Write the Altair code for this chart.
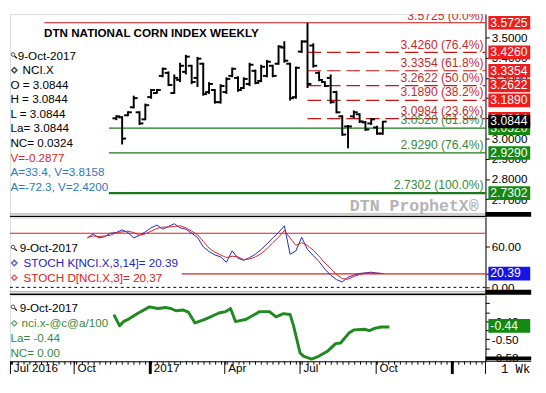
import altair as alt
import pandas as pd

# ------------------------------------------------------------------ data
bar_start = "2016-11-21"          # first weekly bar (Monday)
bar_open = [3.100, 3.105, 3.115, 3.155, 3.130, 3.095, 3.205, 3.225, 3.310, 3.325, 3.225, 3.290,
            3.330, 3.360, 3.300, 3.370, 3.230, 3.240, 3.180, 3.230, 3.310, 3.300, 3.250, 3.270,
            3.335, 3.285, 3.310, 3.360, 3.370, 3.450, 3.370, 3.205, 3.430, 3.480, 3.460, 3.325,
            3.280, 3.300, 3.230, 3.110, 3.060, 3.110, 3.120, 3.080, 3.075, 3.055, 3.025]
bar_high = [3.115, 3.111, 3.135, 3.212, 3.135, 3.173, 3.245, 3.245, 3.351, 3.332, 3.317, 3.375,
            3.414, 3.365, 3.404, 3.375, 3.279, 3.245, 3.269, 3.303, 3.351, 3.308, 3.303, 3.375,
            3.341, 3.365, 3.389, 3.365, 3.462, 3.481, 3.375, 3.356, 3.486, 3.5725, 3.471, 3.332,
            3.284, 3.317, 3.236, 3.115, 3.067, 3.139, 3.125, 3.087, 3.101, 3.063, 3.087]
bar_low = [3.091, 2.971, 3.111, 3.149, 3.067, 3.091, 3.197, 3.221, 3.303, 3.260, 3.221, 3.279,
           3.317, 3.269, 3.255, 3.212, 3.221, 3.173, 3.173, 3.221, 3.303, 3.231, 3.245, 3.260,
           3.269, 3.279, 3.303, 3.303, 3.365, 3.375, 3.188, 3.197, 3.423, 3.250, 3.351, 3.284,
           3.255, 3.173, 3.125, 3.014, 2.952, 3.101, 3.077, 3.038, 3.067, 3.019, 3.019]
bar_close = [3.110, 3.000, 3.130, 3.200, 3.075, 3.165, 3.240, 3.240, 3.345, 3.265, 3.300, 3.360,
             3.405, 3.280, 3.395, 3.220, 3.270, 3.180, 3.260, 3.295, 3.345, 3.240, 3.295, 3.365,
             3.275, 3.355, 3.380, 3.310, 3.455, 3.385, 3.200, 3.350, 3.480, 3.270, 3.360, 3.290,
             3.260, 3.180, 3.130, 3.020, 3.060, 3.130, 3.085, 3.045, 3.095, 3.025, 3.084]

stoch_start = "2016-10-17"
stoch_k = [73, 79, 73, 75, 80, 81, 85, 81, 73, 77, 82, 88, 92, 86, 90, 94, 88, 86, 80, 74,
           60, 53, 48, 45, 37, 54, 43, 40, 44, 49, 56, 64, 73, 81, 91, 49, 54, 74, 56, 47,
           38, 27, 18, 11.5, 8, 15, 18, 20.5, 21.5, 22.4, 21, 20.39]
stoch_d = [74, 76, 75, 76, 77, 81, 82, 83, 81, 77, 79, 83, 87, 89, 89, 90, 91, 88, 83, 78,
           68, 58, 52, 48, 44, 46, 45, 41, 42, 45, 50, 57, 66, 74, 84, 73, 62, 66, 62, 55,
           46, 36, 28, 19, 13, 12, 16, 19, 21, 21, 21, 20.37]

spread_dates = ["2016-11-18", "2016-11-25", "2016-11-30", "2016-12-06", "2016-12-16", "2016-12-31",
                "2017-01-10", "2017-01-20", "2017-01-26", "2017-02-01", "2017-02-10", "2017-02-16",
                "2017-02-24", "2017-03-08", "2017-03-25", "2017-04-02", "2017-04-08", "2017-04-14",
                "2017-04-27", "2017-05-13", "2017-05-25", "2017-06-02", "2017-06-11", "2017-06-19",
                "2017-06-23", "2017-07-01", "2017-07-05", "2017-07-15", "2017-07-24", "2017-08-03",
                "2017-08-13", "2017-08-19", "2017-08-29", "2017-09-04", "2017-09-17", "2017-09-23",
                "2017-09-29", "2017-10-07", "2017-10-17"]
spread_vals = [-0.390, -0.440, -0.420, -0.410, -0.386, -0.356, -0.363, -0.359, -0.363, -0.373,
               -0.370, -0.379, -0.427, -0.411, -0.383, -0.377, -0.363, -0.421, -0.411, -0.377,
               -0.377, -0.400, -0.386, -0.390, -0.438, -0.560, -0.574, -0.587, -0.574, -0.553,
               -0.519, -0.516, -0.472, -0.458, -0.455, -0.461, -0.451, -0.445, -0.445]

fib_top_value = 3.5725
fib_top_pct = "0.0%"
fib_top_start = "2016-08-26"
fib_red_values = [3.4260, 3.3354, 3.2622, 3.1890, 3.0984]
fib_red_pcts = ["76.4%", "61.8%", "50.0%", "38.2%", "23.6%"]
fib_green_values = [3.0520, 2.9290, 2.7302]
fib_green_pcts = ["61.8%", "76.4%", "100.0%"]
fib_green_start = "2016-11-12"
last_price = 3.0844

stoch_levels = [80, 20]
stoch_lo_start = "2017-02-08"
stoch_last_k = 20.39
spread_last = -0.44

price_ticks = [2.7, 2.8, 2.9, 3.0, 3.1, 3.2, 3.3, 3.4, 3.5]
stoch_ticks = [0, 20, 60]
spread_ticks = [-0.58, -0.54, -0.50, -0.46, -0.42, -0.38, -0.34]

quarter_dates = ["2016-07-16", "2016-10-01", "2017-01-01", "2017-04-01",
                 "2017-07-01", "2017-10-01", "2018-01-01"]
quarter_labels = ["Jul 2016", "Oct", "2017", "Apr", "Jul", "Oct", ""]

title_text = "DTN NATIONAL CORN INDEX WEEKLY"
price_legend = ["9-Oct-2017", "NCI.X", "O = 3.0844", "H = 3.0844", "L = 3.0844", "La= 3.0844",
                "NC= 0.0324", "V=-0.2877", "A=33.4, V=3.8158", "A=-72.3, V=2.4200"]
stoch_legend = ["9-Oct-2017", "STOCH K[NCI.X,3,14]= 20.39", "STOCH D[NCI.X,3]= 20.37"]
spread_legend = ["9-Oct-2017", "nci.x-@c@a/100", "La= -0.44", "NC= 0.00"]

# ------------------------------------------------------------------ helpers
FONT = "Liberation Sans"
RED_LINE = "#cc1414"
RED_TXT = "#cc2a2a"
GREEN_LINE = "#1a7a1a"
GREEN_TXT = "#3a8a3a"
BLUE_TXT = "#2f78bd"
K_BLUE = "#2323c0"
D_RED = "#dd2020"

ORIGIN = pd.Timestamp("2016-10-01")


def to_day(d):
    return (pd.Timestamp(d) - ORIGIN).days


W = 489
HP, HS, HB = 209, 80, 68
xs = alt.Scale(domain=[-77.6, 497.1], nice=False, zero=False)
ps = alt.Scale(domain=[2.6106, 3.6154], nice=False, zero=False)
ss = alt.Scale(domain=[-11.5, 103.45], nice=False, zero=False)
bs = alt.Scale(domain=[-0.597, -0.304], nice=False, zero=False)

common_axis = dict(title=None, grid=False, domainColor="black", tickColor="black", tickSize=4,
                   labelPadding=2, labelFontSize=12, labelColor="black", labelFont=FONT,
                   labelOverlap=False, labelFlush=False, labelBound=False)
price_axis = alt.Axis(orient="right", values=price_ticks, format=".4f", **common_axis)
stoch_axis = alt.Axis(orient="right", values=stoch_ticks, format=".2f", **common_axis)
spread_axis = alt.Axis(
    orient="right", values=spread_ticks,
    labelExpr="(abs(datum.value + 0.58) < 0.001 || abs(datum.value + 0.5) < 0.001 || "
              "abs(datum.value + 0.42) < 0.001) ? replace(format(datum.value, '.2f'), '\u2212', '-') : ''",
    **common_axis)

q_days = [to_day(d) for d in quarter_dates]
week_days = [(t - ORIGIN).days for t in pd.date_range("2016-07-18", "2018-02-05", freq="7D")]
tick_vals = sorted(set(week_days + q_days))
label_expr = "".join(f"datum.value == {d} ? '{lab}' : " for d, lab in zip(q_days, quarter_labels)) + "''"
x_axis = alt.Axis(orient="bottom", values=tick_vals, labelExpr=label_expr, title=None, grid=False,
                  domainColor="black", tickColor="black", tickSize=3, labelPadding=-1,
                  labelAlign="left", labelBaseline="top", labelOffset=3, labelFontSize=12,
                  labelColor="black", labelFont=FONT, labelOverlap=False, labelFlush=False,
                  labelBound=False)


def X(f):
    return alt.X(f, type="quantitative", scale=xs, axis=None)


def XB(f):
    return alt.X(f, type="quantitative", scale=xs, axis=x_axis)


def PY(f):
    return alt.Y(f, type="quantitative", scale=ps, axis=price_axis)


def SY(f):
    return alt.Y(f, type="quantitative", scale=ss, axis=stoch_axis)


def BY(f):
    return alt.Y(f, type="quantitative", scale=bs, axis=spread_axis)


def one():
    return alt.Chart(pd.DataFrame({"a": [0]}))


def txt(text, x, y, color="black", size=12, align="left", font=FONT, weight="normal"):
    return alt.Chart(pd.DataFrame({"t": [text]})).mark_text(
        align=align, baseline="middle", color=color, fontSize=size, font=font, fontWeight=weight
    ).encode(x=alt.value(x), y=alt.value(y), text="t:N")


def hrule(y, x1, x2, color, width, dash=None):
    kw = dict(color=color, strokeWidth=width)
    if dash:
        kw["strokeDash"] = dash
    return one().mark_rule(**kw).encode(x=alt.value(x1), x2=alt.value(x2), y=alt.value(y))


def magnifier(x, y):
    return [
        one().mark_point(shape="circle", size=14, filled=False, color="black", strokeWidth=1)
        .encode(x=alt.value(x), y=alt.value(y)),
        one().mark_rule(color="black", strokeWidth=1.2)
        .encode(x=alt.value(x + 1.6), x2=alt.value(x + 4), y=alt.value(y + 1.6), y2=alt.value(y + 4)),
    ]


def diamond(x, y, color):
    return one().mark_point(shape="diamond", size=30, filled=False, color=color, strokeWidth=1.5).encode(
        x=alt.value(x), y=alt.value(y))


def value_box(scale_y, value, label, color, text_size=12.5):
    d = alt.Chart(pd.DataFrame({"v": [value], "t": [label]}))
    return [
        d.mark_rule(strokeWidth=14, color=color).encode(
            x=alt.value(W + 3), x2=alt.value(W + 46), y=scale_y("v")),
        d.mark_text(align="left", baseline="middle", color="white", fontSize=text_size).encode(
            x=alt.value(W + 5), y=scale_y("v"), text="t:N"),
    ]


def panel_bottom(h):
    return [
        hrule(h - 3.5, 0, W, "#9a9a9a", 1),
        hrule(h - 1, 0, W, "black", 1.5),
        hrule(h - 3, W, W + 47, "black", 5),
    ]


# ------------------------------------------------------------------ price panel
bar_dates = pd.date_range(bar_start, periods=len(bar_high), freq="7D")
bars = pd.DataFrame({"d": [(t - ORIGIN).days for t in bar_dates], "o": bar_open,
                     "h": bar_high, "l": bar_low, "c": bar_close})
high_day = int(bars["d"][bars["h"].idxmax()])

fib_top_df = pd.DataFrame({"v": [fib_top_value], "s": [to_day(fib_top_start)],
                           "t": [f"{fib_top_value:.4f} ({fib_top_pct})"]})
fib_red_df = pd.DataFrame({"v": fib_red_values, "s": high_day,
                           "t": [f"{v:.4f} ({p})" for v, p in zip(fib_red_values, fib_red_pcts)]})
fib_green_df = pd.DataFrame({"v": fib_green_values, "s": to_day(fib_green_start),
                             "t": [f"{v:.4f} ({p})" for v, p in zip(fib_green_values, fib_green_pcts)]})

price_layers = [
    alt.Chart(fib_top_df).mark_rule(color=RED_LINE, strokeWidth=1.2).encode(
        x=X("s"), x2=alt.value(W), y=PY("v")),
    alt.Chart(fib_red_df).mark_rule(color=RED_LINE, strokeWidth=1.2, strokeDash=[14, 6]).encode(
        x=X("s"), x2=alt.value(W), y=PY("v")),
    alt.Chart(fib_green_df).mark_rule(color=GREEN_LINE).encode(
        x=X("s"), x2=alt.value(W), y=PY("v"),
        strokeWidth=alt.condition("datum.v < 2.8", alt.value(2.2), alt.value(1.3))),
    alt.Chart(bars).mark_rule(color="black", strokeWidth=2).encode(
        x=X("d"), y=PY("l"), y2="h"),
    alt.Chart(bars).mark_rule(color="black", strokeWidth=2, x2Offset=-4).encode(
        x=X("d"), x2="d", y=PY("o")),
    alt.Chart(bars).mark_rule(color="black", strokeWidth=2, x2Offset=4).encode(
        x=X("d"), x2="d", y=PY("c")),
    alt.Chart(fib_top_df).mark_text(align="right", baseline="alphabetic", dy=-2.5, clip=True,
                                    color=RED_TXT, fontSize=12.5).encode(
        x=alt.value(487), y=PY("v"), text="t:N"),
    alt.Chart(fib_red_df).mark_text(align="right", baseline="alphabetic", dy=-4,
                                    color=RED_TXT, fontSize=12.5).encode(
        x=alt.value(487), y=PY("v"), text="t:N"),
    alt.Chart(fib_green_df).mark_text(align="right", baseline="alphabetic", dy=-4,
                                      color=GREEN_TXT, fontSize=12.5).encode(
        x=alt.value(487), y=PY("v"), text="t:N"),
    txt(title_text, 35, 20, weight="bold", size=12),
    txt("DTN ProphetX\u00ae", 482, 197, color="#b4b4b4", size=17, align="right",
        font="Liberation Mono", weight="bold"),
]
legend_colors = ["black"] * 7 + ["#e02424", BLUE_TXT, BLUE_TXT]
for i, (line, col) in enumerate(zip(price_legend, legend_colors)):
    x = 8 if i == 0 else (13 if i == 1 else 0.5)
    price_layers.append(txt(line, x, 42.7 + 15 * i, color=col))
price_layers += magnifier(3.2, 41.5)
price_layers.append(diamond(4.5, 57.7, "black"))
for v in [fib_top_value] + fib_red_values:
    price_layers += value_box(PY, v, f"{v:.4f}", "#ee1c1c")
for v in fib_green_values:
    price_layers += value_box(PY, v, f"{v:.4f}", "#128a12")
price_layers += value_box(PY, last_price, f"{last_price:.4f}", "black")
price_layers += panel_bottom(HP)
price = alt.layer(*price_layers).properties(width=W, height=HP)

# ------------------------------------------------------------------ stochastic panel
stoch_dates = pd.date_range(stoch_start, periods=len(stoch_k), freq="7D")
stoch_df = pd.DataFrame({"d": [(t - ORIGIN).days for t in stoch_dates], "k": stoch_k, "dd": stoch_d})
lvl_hi = pd.DataFrame({"v": [stoch_levels[0]]})
lvl_lo = pd.DataFrame({"v": [stoch_levels[1]], "s": [to_day(stoch_lo_start)]})
lvl_zero = pd.DataFrame({"v": [0]})

stoch_layers = [
    alt.Chart(lvl_hi).mark_rule(color=D_RED, strokeWidth=1.2).encode(
        x=alt.value(0), x2=alt.value(W), y=SY("v")),
    alt.Chart(lvl_lo).mark_rule(color=D_RED, strokeWidth=1.2).encode(
        x=X("s"), x2=alt.value(W), y=SY("v")),
    alt.Chart(lvl_zero).mark_rule(color="black", strokeWidth=1, strokeDash=[3, 3]).encode(
        x=alt.value(0), x2=alt.value(W), y=SY("v")),
    alt.Chart(stoch_df).mark_line(color=K_BLUE, strokeWidth=1).encode(x=X("d"), y=SY("k")),
    alt.Chart(stoch_df).mark_line(color=D_RED, strokeWidth=1).encode(x=X("d"), y=SY("dd")),
    txt(stoch_legend[0], 10, 31.5),
    txt(stoch_legend[1], 14, 47, color=K_BLUE),
    txt(stoch_legend[2], 14, 62, color=D_RED),
    diamond(4.5, 47, K_BLUE),
    diamond(4.5, 62, D_RED),
]
stoch_layers += magnifier(3.2, 30.5)
stoch_layers += value_box(SY, stoch_last_k, f"{stoch_last_k:.2f}", "#1414e6")
stoch_layers += panel_bottom(HS)
stoch = alt.layer(*stoch_layers).properties(width=W, height=HS)

# ------------------------------------------------------------------ spread panel
spread_df = pd.DataFrame({"d": [to_day(d) for d in spread_dates], "v": spread_vals})
sep_df = pd.DataFrame({"q": q_days, "jan": [d.endswith("-01-01") for d in quarter_dates]})

spread_layers = [
    alt.Chart(spread_df).mark_line(color="#1f8a1f", strokeWidth=3, strokeJoin="round").encode(
        x=XB("d"), y=BY("v")),
    alt.Chart(sep_df).transform_filter("!datum.jan").mark_rule(color="black", strokeWidth=1).encode(
        x=XB("q"), y=alt.value(HB), y2=alt.value(HB + 13)),
    alt.Chart(sep_df).transform_filter("datum.jan").mark_rule(color="black", strokeWidth=3).encode(
        x=XB("q"), y=alt.value(HB), y2=alt.value(HB + 13)),
    one().mark_rule(color="black", strokeWidth=1).encode(
        x=alt.value(W), y=alt.value(HB), y2=alt.value(HB + 13)),
    hrule(HB, W, W + 47, "black", 1),
    hrule(HB - 3, W, W + 47, "black", 4),
    txt("1 Wk", W + 16, HB + 8, size=12.5, font="Liberation Mono"),
    txt(spread_legend[0], 10, 13),
    txt(spread_legend[1], 12, 29, color=GREEN_TXT),
    txt(spread_legend[2], 0.5, 44.5, color=GREEN_TXT),
    txt(spread_legend[3], 0.5, 60, color=GREEN_TXT),
    diamond(4.5, 29, GREEN_TXT),
]
spread_layers += magnifier(3.2, 12)
spread_layers += value_box(BY, spread_last, f"{spread_last:.2f}", "#128a12")
spread = alt.layer(*spread_layers).properties(width=W, height=HB)

chart = alt.vconcat(price, stoch, spread, spacing=0, bounds="flush").properties(
    padding=0
).configure_view(stroke=None).configure(font=FONT)

chart.save("out.html", embed_options={"renderer": "svg", "actions": False})
